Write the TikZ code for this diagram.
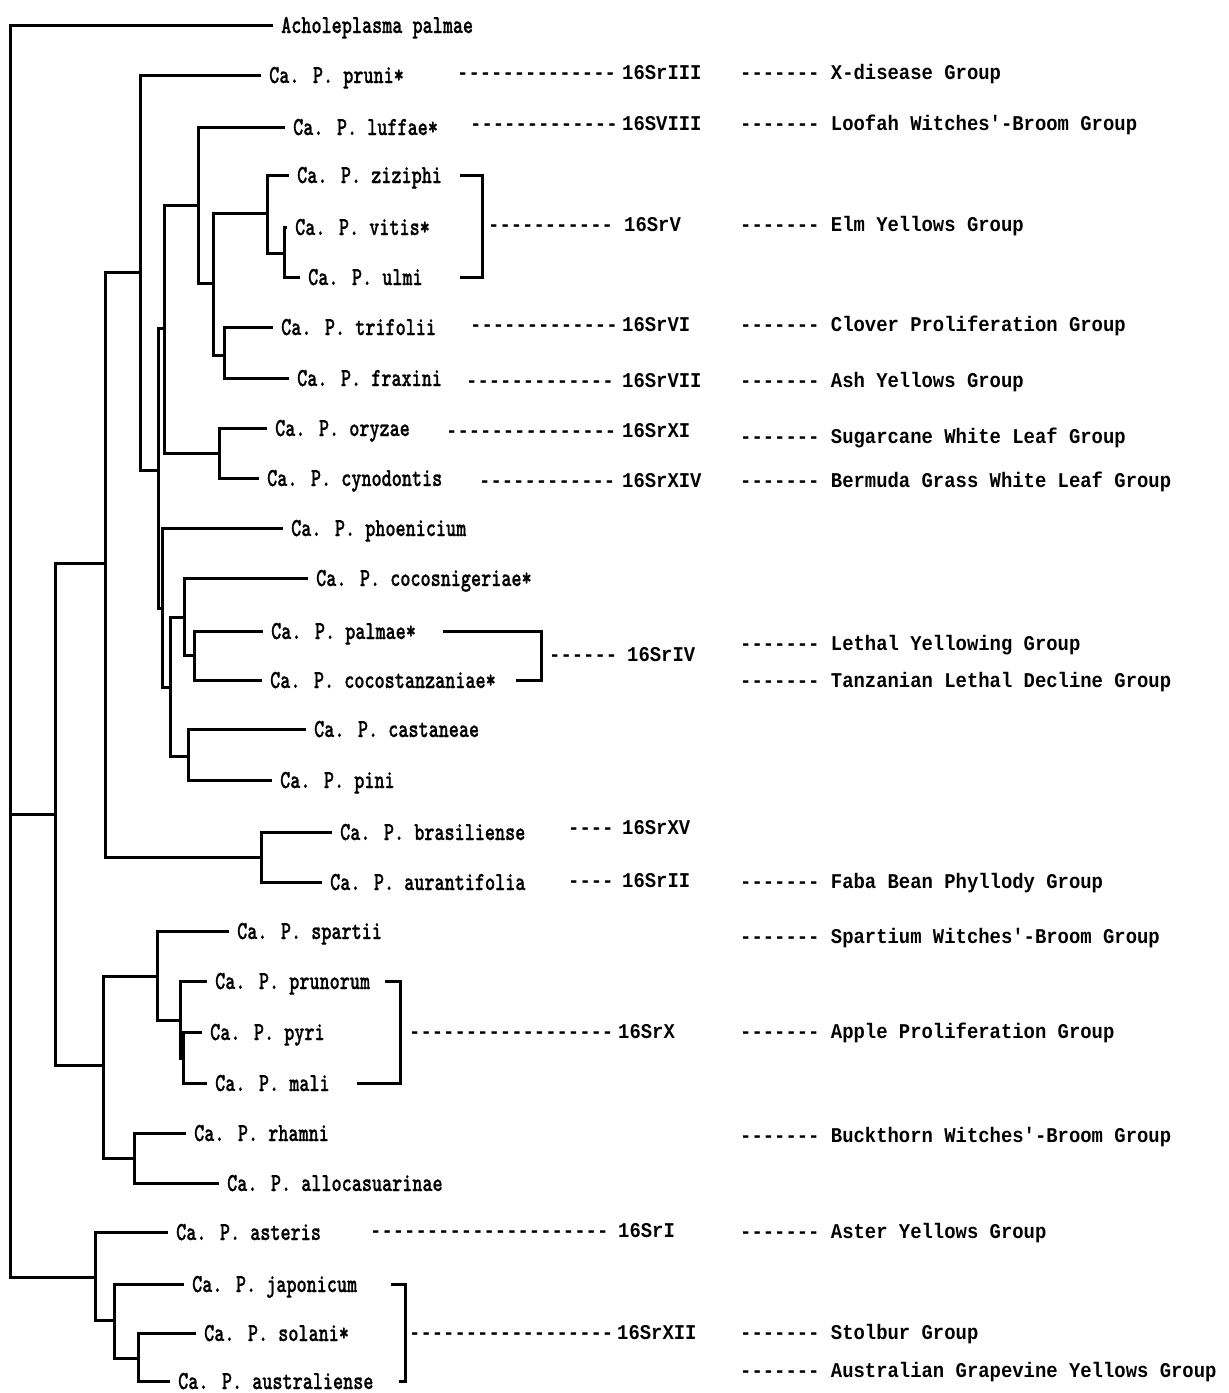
\documentclass[tikz,border=0pt]{standalone}
\usepackage{fontspec}
\newfontfamily\spfont{lmmonolt10-bold}[Extension=.otf, FakeStretch=0.74, FakeBold=0.8, Ligatures=TeXOff]
\newfontfamily\lbfont{Liberation Mono}[FakeStretch=0.9, Ligatures=TeXOff]
\begin{document}
\begin{tikzpicture}[x=1pt,y=-1pt,
  br/.style={line width=3pt, line join=miter},
  leaf/.style={anchor=west, inner xsep=8pt, inner ysep=0pt, text height=16pt, text depth=0pt, font=\spfont\fontsize{26}{28}\selectfont},
  lab/.style={anchor=west, inner sep=0pt, text height=13pt, text depth=0pt, font=\lbfont\bfseries\fontsize{21}{23}\selectfont}]
\useasboundingbox (0,0) rectangle (1229,1393);

% leaves
\node[leaf] (achol) at (273,25) {Acholeplasma palmae};
\node[leaf] (pruni) at (261,75) {Ca. P. pruni*};
\node[leaf] (luffae) at (285,127) {Ca. P. luffae*};
\node[leaf] (ziziphi) at (289,175) {Ca. P. ziziphi};
\node[leaf] (vitis) at (287,227) {Ca. P. vitis*};
\node[leaf] (ulmi) at (300,277) {Ca. P. ulmi};
\node[leaf] (trifolii) at (273,327) {Ca. P. trifolii};
\node[leaf] (fraxini) at (289,378) {Ca. P. fraxini};
\node[leaf] (oryzae) at (267,428) {Ca. P. oryzae};
\node[leaf] (cynodontis) at (259,478) {Ca. P. cynodontis};
\node[leaf] (phoenicium) at (283,528) {Ca. P. phoenicium};
\node[leaf] (cocosnig) at (308,578) {Ca. P. cocosnigeriae*};
\node[leaf] (palmae) at (263,631) {Ca. P. palmae*};
\node[leaf] (cocostan) at (262,680) {Ca. P. cocostanzaniae*};
\node[leaf] (castaneae) at (306,729) {Ca. P. castaneae};
\node[leaf] (pini) at (272,780) {Ca. P. pini};
\node[leaf] (brasil) at (332,832) {Ca. P. brasiliense};
\node[leaf] (auran) at (322,882) {Ca. P. aurantifolia};
\node[leaf] (spartii) at (229,931) {Ca. P. spartii};
\node[leaf] (prunorum) at (207,981) {Ca. P. prunorum};
\node[leaf] (pyri) at (202,1032) {Ca. P. pyri};
\node[leaf] (mali) at (207,1083) {Ca. P. mali};
\node[leaf] (rhamni) at (186,1133) {Ca. P. rhamni};
\node[leaf] (alloc) at (219,1183) {Ca. P. allocasuarinae};
\node[leaf] (asteris) at (168,1232) {Ca. P. asteris};
\node[leaf] (japonicum) at (184,1284) {Ca. P. japonicum};
\node[leaf] (solani) at (196,1333) {Ca. P. solani*};
\node[leaf] (austral) at (170,1381) {Ca. P. australiense};

% internal nodes
\coordinate (root) at (10,814);
\coordinate (nC) at (55,814);
\coordinate (nB) at (105,563);
\coordinate (nD) at (103,1065);
\coordinate (nA) at (140,272);
\coordinate (nR) at (261,857);
\coordinate (nE) at (158,470);
\coordinate (nF) at (164,328);
\coordinate (nH) at (162,608);
\coordinate (nG) at (198,205);
\coordinate (nQ) at (219,453);
\coordinate (nM) at (213,283);
\coordinate (nN) at (267,213);
\coordinate (nO) at (284,253);
\coordinate (nP) at (224,355);
\coordinate (nI) at (170,687);
\coordinate (nJ) at (184,617);
\coordinate (nK) at (194,655);
\coordinate (nL) at (188,756);
\coordinate (nS) at (157,976);
\coordinate (nT) at (180,1020);
\coordinate (nU) at (183,1058);
\coordinate (nV) at (134,1158);
\coordinate (nW) at (95,1277);
\coordinate (nX) at (114,1320);
\coordinate (nY) at (138,1358);

% branches
\draw[br] (root) |- (achol.west);
\draw[br] (root) |- (nC);
\draw[br] (root) |- (nW);
\draw[br] (nC) |- (nB);
\draw[br] (nC) |- (nD);
\draw[br] (nB) |- (nA);
\draw[br] (nB) |- (nR);
\draw[br] (nA) |- (pruni.west);
\draw[br] (nA) |- (nE);
\draw[br] (nE) |- (nF);
\draw[br] (nE) |- (nH);
\draw[br] (nF) |- (nG);
\draw[br] (nF) |- (nQ);
\draw[br] (nG) |- (luffae.west);
\draw[br] (nG) |- (nM);
\draw[br] (nM) |- (nN);
\draw[br] (nM) |- (nP);
\draw[br] (nN) |- (ziziphi.west);
\draw[br] (nN) |- (nO);
\draw[br] (nO) |- (vitis.west);
\draw[br] (nO) |- (ulmi.west);
\draw[br] (nP) |- (trifolii.west);
\draw[br] (nP) |- (fraxini.west);
\draw[br] (nQ) |- (oryzae.west);
\draw[br] (nQ) |- (cynodontis.west);
\draw[br] (nH) |- (phoenicium.west);
\draw[br] (nH) |- (nI);
\draw[br] (nI) |- (nJ);
\draw[br] (nI) |- (nL);
\draw[br] (nJ) |- (cocosnig.west);
\draw[br] (nJ) |- (nK);
\draw[br] (nK) |- (palmae.west);
\draw[br] (nK) |- (cocostan.west);
\draw[br] (nL) |- (castaneae.west);
\draw[br] (nL) |- (pini.west);
\draw[br] (nR) |- (brasil.west);
\draw[br] (nR) |- (auran.west);
\draw[br] (nD) |- (nS);
\draw[br] (nD) |- (nV);
\draw[br] (nS) |- (spartii.west);
\draw[br] (nS) |- (nT);
\draw[br] (nT) |- (prunorum.west);
\draw[br] (nT) |- (nU);
\draw[br] (nU) |- (pyri.west);
\draw[br] (nU) |- (mali.west);
\draw[br] (nV) |- (rhamni.west);
\draw[br] (nV) |- (alloc.west);
\draw[br] (nW) |- (asteris.west);
\draw[br] (nW) |- (nX);
\draw[br] (nX) |- (japonicum.west);
\draw[br] (nX) |- (nY);
\draw[br] (nY) |- (solani.west);
\draw[br] (nY) |- (austral.west);

% brackets
\coordinate (elmT) at (460,175); \coordinate (elmR) at (482,226); \coordinate (elmB) at (460,277);
\draw[br] (elmT) -| (elmR) |- (elmB);
\coordinate (lyT) at (443,631); \coordinate (lyR) at (541,655); \coordinate (lyB) at (516,680);
\draw[br] (lyT) -| (lyR) |- (lyB);
\coordinate (apT) at (385,981); \coordinate (apR) at (400,1032); \coordinate (apB) at (357,1083);
\draw[br] (apT) -| (apR) |- (apB);
\coordinate (stT) at (391,1284); \coordinate (stR) at (405,1333); \coordinate (stB) at (399,1381);
\draw[br] (stT) -| (stR) |- (stB);

% middle dashes
\node[lab] (d1) at (457,73) {--------------};
\node[lab] (d2) at (470,124) {-------------};
\node[lab] (d3) at (488,225) {-----------};
\node[lab] (d4) at (470,325) {-------------};
\node[lab] (d5) at (466,381) {-------------};
\node[lab] (d6) at (446,431) {---------------};
\node[lab] (d7) at (479,481) {------------};
\node[lab] (d8) at (549,655) {------};
\node[lab] (d9) at (568,828) {----};
\node[lab] (d10) at (568,881) {----};
\node[lab] (d11) at (409,1032) {------------------};
\node[lab] (d12) at (370,1231) {---------------------};
\node[lab] (d13) at (409,1333) {------------------};

% 16Sr groups
\node[lab] (s1) at (622,73) {16SrIII};
\node[lab] (s2) at (622,124) {16SVIII};
\node[lab] (s3) at (624,225) {16SrV};
\node[lab] (s4) at (622,325) {16SrVI};
\node[lab] (s5) at (622,381) {16SrVII};
\node[lab] (s6) at (622,431) {16SrXI};
\node[lab] (s7) at (622,481) {16SrXIV};
\node[lab] (s8) at (627,655) {16SrIV};
\node[lab] (s9) at (622,828) {16SrXV};
\node[lab] (s10) at (622,881) {16SrII};
\node[lab] (s11) at (618,1032) {16SrX};
\node[lab] (s12) at (618,1231) {16SrI};
\node[lab] (s13) at (617,1333) {16SrXII};

% group names
\node[lab] (g1) at (740,73) {------- X-disease Group};
\node[lab] (g2) at (740,124) {------- Loofah Witches'-Broom Group};
\node[lab] (g3) at (740,225) {------- Elm Yellows Group};
\node[lab] (g4) at (740,325) {------- Clover Proliferation Group};
\node[lab] (g5) at (740,381) {------- Ash Yellows Group};
\node[lab] (g6) at (740,437) {------- Sugarcane White Leaf Group};
\node[lab] (g7) at (740,481) {------- Bermuda Grass White Leaf Group};
\node[lab] (g8) at (740,644) {------- Lethal Yellowing Group};
\node[lab] (g9) at (740,681) {------- Tanzanian Lethal Decline Group};
\node[lab] (g10) at (740,882) {------- Faba Bean Phyllody Group};
\node[lab] (g11) at (740,937) {------- Spartium Witches'-Broom Group};
\node[lab] (g12) at (740,1032) {------- Apple Proliferation Group};
\node[lab] (g13) at (740,1136) {------- Buckthorn Witches'-Broom Group};
\node[lab] (g14) at (740,1232) {------- Aster Yellows Group};
\node[lab] (g15) at (740,1333) {------- Stolbur Group};
\node[lab] (g16) at (740,1371) {------- Australian Grapevine Yellows Group};
\end{tikzpicture}
\end{document}
